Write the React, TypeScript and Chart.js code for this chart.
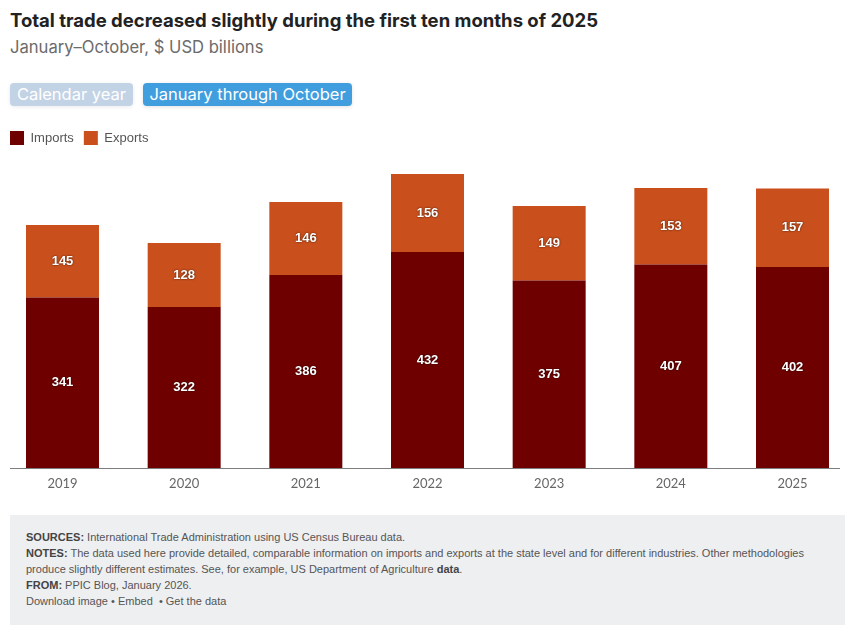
import React, { useEffect, useRef } from "react";
import { Chart, registerables } from "chart.js";

Chart.register(...registerables);

const years = ["2019", "2020", "2021", "2022", "2023", "2024", "2025"];
const importsValues = [341, 322, 386, 432, 375, 407, 402];
const exportsValues = [145, 128, 146, 156, 149, 153, 157];
const seriesNames = ["Imports", "Exports"];
const seriesColors = ["#6f0000", "#c94f1c"];
const yMax = 626;

const TITLE = "Total trade decreased slightly during the first ten months of 2025";
const SUBTITLE = "January\u2013October, $ USD billions";
const BUTTONS = ["Calendar year", "January through October"];

export default function App() {
  const canvasRef = useRef<HTMLCanvasElement>(null);

  useEffect(() => {
    const canvas = canvasRef.current;
    if (!canvas) return;

    const axisLine = {
      id: "axisLine",
      beforeDatasetsDraw(chart: any) {
        const ctx = chart.ctx;
        const y = Math.round(chart.scales.y.getPixelForValue(0)) + 0.5;
        ctx.save();
        ctx.strokeStyle = "#7d7d7d";
        ctx.lineWidth = 1;
        ctx.beginPath();
        ctx.moveTo(chart.chartArea.left - 52.5, y);
        ctx.lineTo(chart.chartArea.right + 47.5, y);
        ctx.stroke();
        ctx.restore();
      },
    };

    const valueLabels = {
      id: "valueLabels",
      afterDatasetsDraw(chart: any) {
        const ctx = chart.ctx;
        chart.data.datasets.forEach((ds: any, i: number) => {
          const meta = chart.getDatasetMeta(i);
          meta.data.forEach((bar: any, j: number) => {
            const { x, y, base } = bar.getProps(["x", "y", "base"], true);
            ctx.save();
            ctx.font = 'bold 13px "Liberation Sans", Arial, sans-serif';
            ctx.fillStyle = "#ffffff";
            ctx.textAlign = "center";
            ctx.textBaseline = "middle";
            ctx.shadowColor = "rgba(0,0,0,0.75)";
            ctx.shadowBlur = 2;
            ctx.fillText(String(ds.data[j]), x, (y + base) / 2);
            ctx.restore();
          });
        });
      },
    };

    const chart = new Chart(canvas, {
      type: "bar",
      data: {
        labels: years,
        datasets: [
          {
            label: seriesNames[0],
            data: importsValues,
            backgroundColor: seriesColors[0],
            borderWidth: 0,
            categoryPercentage: 0.6,
            barPercentage: 1,
            clip: false as any,
          },
          {
            label: seriesNames[1],
            data: exportsValues,
            backgroundColor: seriesColors[1],
            borderWidth: 0,
            categoryPercentage: 0.6,
            barPercentage: 1,
            clip: false as any,
          },
        ],
      },
      options: {
        animation: false,
        responsive: true,
        maintainAspectRatio: false,
        events: [],
        layout: { padding: { left: 0, right: 56.5, top: 0, bottom: 11.4 } },
        plugins: {
          legend: {
            position: "top",
            align: "start",
            labels: {
              boxWidth: 14,
              boxHeight: 14,
              padding: 10,
              color: "#555555",
              font: { family: '"Liberation Sans", Arial, sans-serif', size: 13 },
            },
          },
          tooltip: { enabled: false },
        },
        scales: {
          x: {
            stacked: true,
            offset: false,
            grid: { display: false, drawTicks: false, tickLength: 0 },
            border: { display: false },
            ticks: {
              color: "#666666",
              padding: 8,
              font: { family: "Lato, sans-serif", size: 13 },
            },
          },
          y: {
            stacked: true,
            min: 0,
            max: yMax,
            display: true,
            grid: { display: false, drawTicks: false, tickLength: 0 },
            border: { display: false },
            ticks: { display: false },
            afterFit(scale: any) {
              scale.width = 62.5;
            },
          },
        },
      },
      plugins: [axisLine, valueLabels],
    });

    return () => chart.destroy();
  }, []);

  const labelStyle: React.CSSProperties = { fontWeight: "bold", color: "#444" };

  return (
    <div
      style={{
        position: "absolute",
        left: 0,
        top: 0,
        width: 849,
        height: 634,
        background: "#ffffff",
        overflow: "hidden",
      }}
    >
      <div
        style={{
          position: "absolute",
          left: 10,
          top: 9.5,
          fontFamily: "Inter, sans-serif",
          fontWeight: 700,
          fontSize: 18.5,
          lineHeight: "21px",
          color: "#222222",
          whiteSpace: "nowrap",
        }}
      >
        {TITLE}
      </div>
      <div
        style={{
          position: "absolute",
          left: 10,
          top: 38,
          fontFamily: "Inter, sans-serif",
          fontSize: 16.6,
          lineHeight: "19px",
          color: "#6b6b6b",
          whiteSpace: "nowrap",
        }}
      >
        {SUBTITLE}
      </div>
      <div
        style={{
          position: "absolute",
          left: 10,
          top: 83,
          height: 23,
          width: 123,
          borderRadius: 4,
          background: "#c3d3e6",
          color: "#ffffff",
          fontFamily: "Inter, sans-serif",
          fontSize: 16.5,
          lineHeight: "23px",
          textAlign: "center",
          whiteSpace: "nowrap",
          boxShadow: "0 1px 4px rgba(0,0,0,0.08)",
        }}
      >
        {BUTTONS[0]}
      </div>
      <div
        style={{
          position: "absolute",
          left: 143,
          top: 83,
          height: 23,
          width: 209,
          borderRadius: 4,
          background: "#409ede",
          color: "#ffffff",
          fontFamily: "Inter, sans-serif",
          fontSize: 16.5,
          lineHeight: "23px",
          textAlign: "center",
          whiteSpace: "nowrap",
          boxShadow: "0 1px 4px rgba(0,0,0,0.12)",
        }}
      >
        {BUTTONS[1]}
      </div>
      <div style={{ position: "absolute", left: 0, top: 121, width: 849, height: 390 }}>
        <canvas ref={canvasRef} />
      </div>
      <div
        style={{
          position: "absolute",
          left: 10,
          top: 515,
          width: 835,
          height: 110,
          background: "#eeeff1",
          boxSizing: "border-box",
          padding: "14px 16px 0 16px",
          fontFamily: '"Liberation Sans", Arial, sans-serif',
          fontSize: 11,
          lineHeight: "16px",
          color: "#555555",
          whiteSpace: "nowrap",
        }}
      >
        <div>
          <span style={labelStyle}>SOURCES:</span> International Trade Administration using US Census Bureau data.
        </div>
        <div>
          <span style={labelStyle}>NOTES:</span> The data used here provide detailed, comparable information on imports and exports at the state level and for different industries. Other methodologies
        </div>
        <div>
          produce slightly different estimates. See, for example, US Department of Agriculture <span style={labelStyle}>data</span>.
        </div>
        <div>
          <span style={labelStyle}>FROM:</span> PPIC Blog, January 2026.
        </div>
        <div>Download image {"\u2022"} Embed &nbsp;{"\u2022"} Get the data</div>
      </div>
    </div>
  );
}
